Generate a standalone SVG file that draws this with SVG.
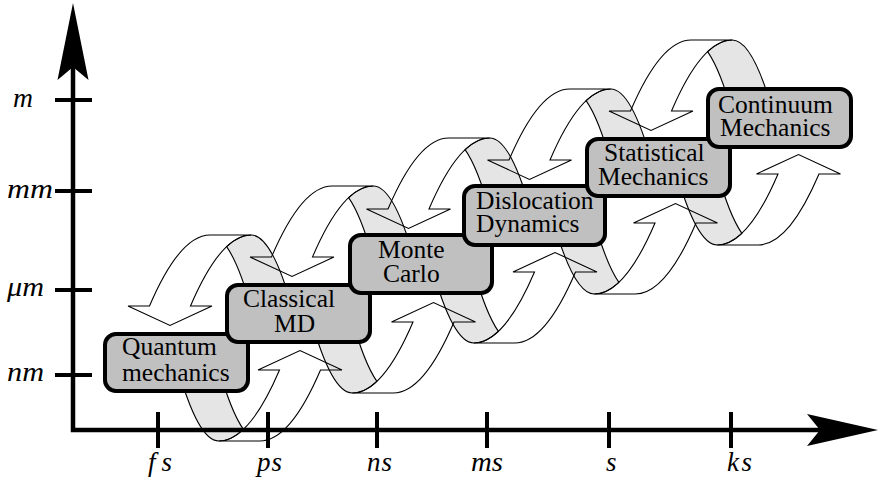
<svg xmlns="http://www.w3.org/2000/svg" width="880" height="480" viewBox="0 0 880 480">
  <style>
    .band { fill: #e5e5e5; stroke: none; }
    .edge { fill: none; stroke: #000; stroke-width: 1.1; stroke-linejoin: miter; }
    .axis { fill: none; stroke: #000; stroke-width: 4.5; stroke-linejoin: miter; }
    .tick { fill: none; stroke: #000; stroke-width: 4; }
    .head { fill: #000; stroke: none; }
    .unit { font-family: "Liberation Serif", "Times New Roman", serif; font-style: italic; font-size: 27px; fill: #000; }
    .node rect { fill: #c0c0c0; stroke: #000; stroke-width: 4; }
    .node text { font-family: "Liberation Serif", "Times New Roman", serif; font-size: 25.5px; fill: #000; }
  </style>
  <defs>
    <!-- curved ribbon arrow, front face: outer edge, top, inner edge, arrowhead -->
    <path id="arrow" d="M-60.7,71 Q-30.35,0 0,0 L41,0 Q10.65,0 -19.7,71 L1.8,71 L-40.2,90.5 L-82.2,71 Z"/>
    <!-- back face of the ribbon where it turns away -->
    <path id="ribbon" d="M16.4,11.67 Q28.7,0 41,0 Q61.8,0 82.6,75 L41.6,75 Q29.01,29.59 16.4,11.67 Z"/>
  </defs>

  <!-- spiral connectors between successive methods -->
  <g id="connectors">
    <g class="band">
      <use href="#ribbon" transform="translate(210.2,235)"/>
      <use href="#ribbon" transform="translate(259.8,441) rotate(180)"/>
      <use href="#ribbon" transform="translate(332.2,186)"/>
      <use href="#ribbon" transform="translate(393.3,393) rotate(180)"/>
      <use href="#ribbon" transform="translate(448.7,138)"/>
      <use href="#ribbon" transform="translate(514.8,343) rotate(180)"/>
      <use href="#ribbon" transform="translate(569.7,89)"/>
      <use href="#ribbon" transform="translate(635.3,294) rotate(180)"/>
      <use href="#ribbon" transform="translate(691.2,40)"/>
      <use href="#ribbon" transform="translate(758.3,245) rotate(180)"/>
    </g>
    <g class="edge">
      <use href="#ribbon" transform="translate(210.2,235)"/>
      <use href="#ribbon" transform="translate(259.8,441) rotate(180)"/>
      <use href="#ribbon" transform="translate(332.2,186)"/>
      <use href="#ribbon" transform="translate(393.3,393) rotate(180)"/>
      <use href="#ribbon" transform="translate(448.7,138)"/>
      <use href="#ribbon" transform="translate(514.8,343) rotate(180)"/>
      <use href="#ribbon" transform="translate(569.7,89)"/>
      <use href="#ribbon" transform="translate(635.3,294) rotate(180)"/>
      <use href="#ribbon" transform="translate(691.2,40)"/>
      <use href="#ribbon" transform="translate(758.3,245) rotate(180)"/>
      <use href="#arrow" transform="translate(210.2,235)"/>
      <use href="#arrow" transform="translate(259.8,441) rotate(180)"/>
      <use href="#arrow" transform="translate(332.2,186)"/>
      <use href="#arrow" transform="translate(393.3,393) rotate(180)"/>
      <use href="#arrow" transform="translate(448.7,138)"/>
      <use href="#arrow" transform="translate(514.8,343) rotate(180)"/>
      <use href="#arrow" transform="translate(569.7,89)"/>
      <use href="#arrow" transform="translate(635.3,294) rotate(180)"/>
      <use href="#arrow" transform="translate(691.2,40)"/>
      <use href="#arrow" transform="translate(758.3,245) rotate(180)"/>
    </g>
  </g>

  <!-- axes: length (vertical) and time (horizontal) -->
  <g id="axes">
    <polyline class="axis" points="73,66 73,430 821,430"/>
    <polygon class="head" points="73,3 88.5,80 73,67 57.5,80"/>
    <polygon class="head" points="878,430 807,414 820,430 807,446"/>
    <path class="tick" d="M55,100 H92 M55,191 H92 M55,290 H92 M55,375 H92"/>
    <path class="tick" d="M158,412 V448 M268,412 V448 M377,412 V448 M487,412 V448 M609,412 V448 M731,412 V448"/>
    <text class="unit" x="13" y="106.5" textLength="20" lengthAdjust="spacingAndGlyphs">m</text>
    <text class="unit" x="7" y="197.5" textLength="46" lengthAdjust="spacingAndGlyphs">mm</text>
    <text class="unit" x="7" y="296" textLength="37" lengthAdjust="spacingAndGlyphs">μm</text>
    <text class="unit" x="7" y="381" textLength="37" lengthAdjust="spacingAndGlyphs">nm</text>
    <text class="unit" x="148" y="471" textLength="24" lengthAdjust="spacing">fs</text>
    <text class="unit" x="257" y="471" textLength="25" lengthAdjust="spacing">ps</text>
    <text class="unit" x="367" y="471" textLength="25" lengthAdjust="spacing">ns</text>
    <text class="unit" x="471" y="471" textLength="32" lengthAdjust="spacingAndGlyphs">ms</text>
    <text class="unit" x="606" y="471">s</text>
    <text class="unit" x="727" y="471" textLength="25" lengthAdjust="spacing">ks</text>
  </g>

  <!-- methods -->
  <g id="quantum" class="node">
    <rect x="105" y="334" width="143" height="57" rx="11"/>
    <text x="122" y="355">Quantum</text>
    <text x="122" y="381">mechanics</text>
  </g>
  <g id="classical-md" class="node">
    <rect x="227" y="285" width="143" height="57" rx="11"/>
    <text x="243" y="307">Classical</text>
    <text x="274" y="332">MD</text>
  </g>
  <g id="monte-carlo" class="node">
    <rect x="350" y="235" width="142" height="58" rx="11"/>
    <text x="378" y="258">Monte</text>
    <text x="383" y="282">Carlo</text>
  </g>
  <g id="dislocation-dynamics" class="node">
    <rect x="464" y="186" width="141" height="59" rx="11"/>
    <text x="476" y="209">Dislocation</text>
    <text x="476" y="232">Dynamics</text>
  </g>
  <g id="statistical-mechanics" class="node">
    <rect x="587" y="139" width="143" height="57" rx="11"/>
    <text x="604" y="161">Statistical</text>
    <text x="598" y="185">Mechanics</text>
  </g>
  <g id="continuum-mechanics" class="node">
    <rect x="708" y="89" width="143" height="58" rx="11"/>
    <text x="718" y="113">Continuum</text>
    <text x="720" y="136">Mechanics</text>
  </g>
</svg>
